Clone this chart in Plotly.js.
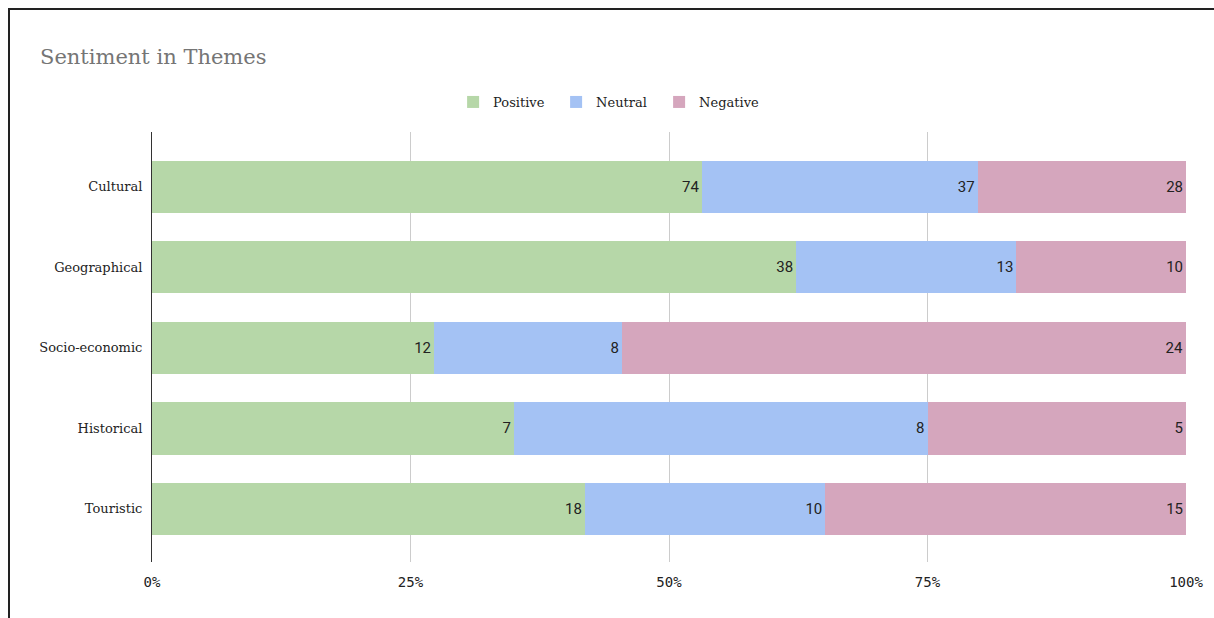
<!DOCTYPE html>
<html>
<head>
<meta charset="utf-8">
<script src="https://cdn.plot.ly/plotly-3.0.1.min.js"></script>
<style>
html,body{margin:0;padding:0;background:#fff;}
#chart{width:1214px;height:618px;}
#frame{position:absolute;left:8px;top:8px;width:1300px;height:700px;border-top:2px solid #222;border-left:2px solid #222;pointer-events:none;}
</style>
</head>
<body>
<div id="chart"></div>
<div id="frame"></div>
<script>
const categories = ["Cultural", "Geographical", "Socio-economic", "Historical", "Touristic"];
const positive = [74, 38, 12, 7, 18];
const neutral = [37, 13, 8, 8, 10];
const negative = [28, 10, 24, 5, 15];
const seriesNames = ["Positive", "Neutral", "Negative"];
const seriesColors = ["#b6d7a8", "#a4c2f4", "#d5a6bd"];
const xTickVals = [0, 25, 50, 75, 100];
const xTickText = ["0%", "25%", "50%", "75%", "100%"];

const seriesData = [positive, neutral, negative];
const traces = seriesData.map((vals, i) => ({
  type: "bar",
  orientation: "h",
  name: seriesNames[i],
  y: categories,
  x: vals,
  text: vals.map(String),
  texttemplate: "%{text}",
  textposition: "inside",
  insidetextanchor: "end",
  textangle: 0,
  constraintext: "none",
  textfont: {family: "Roboto, sans-serif", size: 15, color: "#222"},
  marker: {color: seriesColors[i], line: {width: 0}},
  hoverinfo: "skip"
}));

const layout = {
  width: 1214, height: 618,
  paper_bgcolor: "#fff", plot_bgcolor: "#fff",
  barmode: "stack", barnorm: "percent", bargap: 0.35,
  margin: {l: 152, r: 28, t: 132, b: 56, pad: 0},
  title: {text: "Sentiment in Themes", x: 40/1214, xanchor: "left", xref: "container",
          y: 1 - 57/618, yanchor: "middle", yref: "container",
          font: {family: "DejaVu Serif, serif", size: 21, color: "#757575"}},
  legend: {orientation: "h", x: 0.5005, xanchor: "center", xref: "container",
           y: 1 - 102/618, yanchor: "middle", yref: "container",
           font: {family: "DejaVu Serif, serif", size: 13, color: "#222"},
           itemwidth: 30, entrywidth: 58, traceorder: "normal"},
  xaxis: {range: [0, 100], tickvals: xTickVals, ticktext: xTickText,
          showgrid: true, gridcolor: "#cccccc", gridwidth: 1, zeroline: false,
          showline: false, ticks: "", ticklen: 0, ticklabelstandoff: 10,
          tickfont: {family: "DejaVu Sans Mono, monospace", size: 14, color: "#222"},
          fixedrange: true},
  yaxis: {range: [4.66, -0.68], type: "category", showgrid: false, zeroline: false,
          showline: true, linecolor: "#333", linewidth: 1, ticks: "",
          ticklabelstandoff: 6,
          tickfont: {family: "DejaVu Serif, serif", size: 13, color: "#222"},
          fixedrange: true},
  showlegend: true
};

Plotly.newPlot("chart", traces, layout, {staticPlot: true, displayModeBar: false});
</script>
</body>
</html>
